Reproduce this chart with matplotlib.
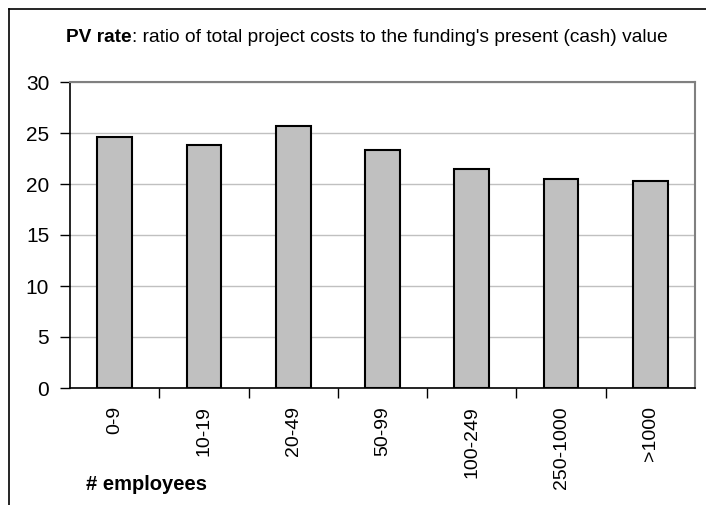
import numpy as np
import matplotlib.pyplot as plt
from matplotlib.lines import Line2D

# PV rate by company size
categories = ['0-9', '10-19', '20-49', '50-99', '100-249', '250-1000', '>1000']
pv_rate = [24.6, 23.8, 25.7, 23.3, 21.5, 20.5, 20.3]

plt.rcParams['font.family'] = ['Liberation Sans', 'DejaVu Sans']

W, H = 706, 505
fig = plt.figure(figsize=(W / 100, H / 100), dpi=100)
ax = fig.add_axes([70 / W, 1 - 388 / H, (695 - 70) / W, (388 - 82) / H])

x = np.arange(len(categories))
ax.bar(x, pv_rate, width=0.39, color='#c0c0c0', edgecolor='black', linewidth=1.5, zorder=3)

ax.set_xlim(-0.5, len(categories) - 0.5)
ax.set_ylim(0, 30)
ax.set_yticks(np.arange(0, 31, 5))
ax.yaxis.grid(True, color='#c0c0c0', linewidth=1, zorder=0)
ax.tick_params(axis='y', direction='out', length=7, width=1, pad=8, labelsize=15)

# boundary ticks below the axis, labels centred under the bars
ax.set_xticks(np.arange(0.5, len(categories) - 0.5, 1))
ax.set_xticklabels([])
ax.tick_params(axis='x', which='major', direction='out', length=7, width=1)
ax.set_xticks(x, minor=True)
ax.set_xticklabels(categories, minor=True, rotation=90, va='top', ha='center')
ax.tick_params(axis='x', which='minor', length=0, pad=13, labelsize=14)

for side in ('top', 'right'):
    ax.spines[side].set_color('#808080')
    ax.spines[side].set_linewidth(1.5)
for side in ('left', 'bottom'):
    ax.spines[side].set_color('black')
    ax.spines[side].set_linewidth(1.2)

# title: bold lead-in followed by regular text
r = fig.canvas.get_renderer()
t1 = fig.text(66 / W, 1 - 42 / H, 'PV rate', fontsize=13.8, fontweight='bold',
              ha='left', va='baseline')
bb = t1.get_window_extent(renderer=r)
fig.text(bb.x1 / W, 1 - 42 / H,
         ": ratio of total project costs to the funding's present (cash) value",
         fontsize=13.8, ha='left', va='baseline')

fig.text(86 / W, 1 - 490 / H, '# employees', fontsize=14.5, fontweight='bold',
         ha='left', va='baseline')

# outer frame (left and top edges)
fig.add_artist(Line2D([9 / W, 9 / W], [0, 1 - 9 / H], color='black', linewidth=1.2,
                      transform=fig.transFigure))
fig.add_artist(Line2D([9 / W, 1], [1 - 9 / H, 1 - 9 / H], color='black', linewidth=1.2,
                      transform=fig.transFigure))

fig.savefig('out.png', dpi=100)
